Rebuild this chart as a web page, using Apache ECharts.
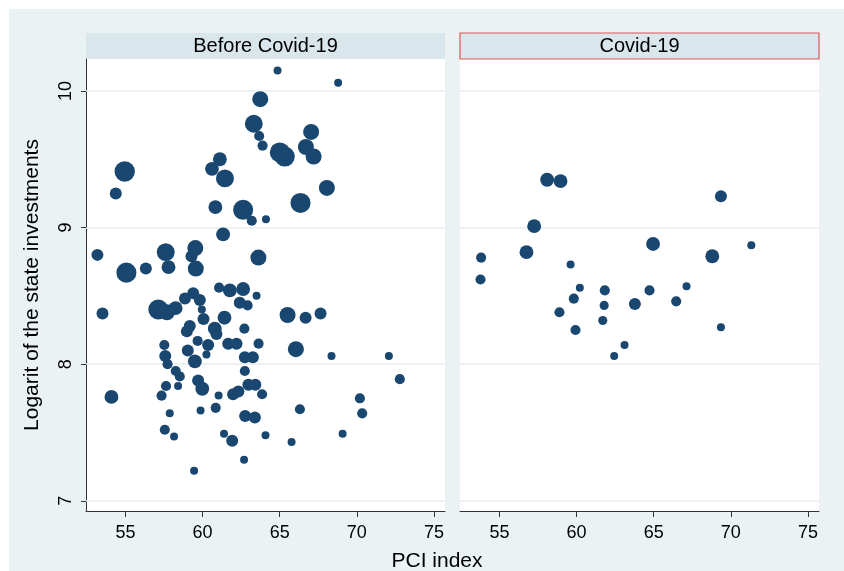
<!DOCTYPE html>
<html>
<head>
<meta charset="utf-8">
<script src="https://cdn.jsdelivr.net/npm/echarts@6.0.0/dist/echarts.min.js"></script>
<style>
  html, body { margin: 0; padding: 0; background: #ffffff; }
  #chart { position: absolute; left: 9px; top: 9px; width: 835px; height: 562px; }
</style>
</head>
<body>
<div id="chart"></div>
<script>
// ---- data ----
const panelTitles = ['Before Covid-19', 'Covid-19'];
const xTitle = 'PCI index';
const yTitle = 'Logarit of the state investments';
const xTicks = [55, 60, 65, 70, 75];
const yTicks = [7, 8, 9, 10];

const beforeX = [
  64.86,68.79,63.74,63.32,63.67,63.89,65.01,65.33,67.04,66.70,
  67.20,54.95,54.37,61.12,60.61,61.45,68.06,60.83,66.35,62.63,
  63.19,64.11,61.33,53.18,57.61,59.53,59.28,57.79,59.56,55.06,
  56.32,63.62,61.07,61.77,62.63,59.39,59.82,58.86,62.41,62.92,
  63.50,57.13,57.69,58.25,53.51,59.95,60.06,61.42,60.79,60.90,
  59.17,58.98,62.71,59.68,60.36,57.52,59.04,60.25,61.66,62.20,
  63.63,57.58,59.50,62.74,63.26,57.73,62.74,58.26,58.52,59.71,
  59.98,57.63,58.41,57.34,54.09,61.04,61.98,62.32,62.97,63.42,
  63.86,57.87,59.87,60.85,62.76,63.39,57.55,58.15,61.39,61.92,
  64.08,62.69,59.45,65.51,66.68,67.65,66.05,68.36,72.08,72.79,
  70.20,70.35,66.31,69.08,65.77
];
const beforeY = [
  10.15,10.06,9.94,9.76,9.67,9.60,9.55,9.52,9.70,9.59,
  9.52,9.41,9.25,9.50,9.43,9.36,9.29,9.15,9.18,9.13,
  9.05,9.06,8.95,8.80,8.82,8.85,8.79,8.71,8.70,8.67,
  8.70,8.78,8.56,8.54,8.55,8.52,8.47,8.48,8.45,8.43,
  8.50,8.40,8.38,8.41,8.37,8.40,8.33,8.34,8.26,8.22,
  8.28,8.24,8.26,8.17,8.14,8.14,8.10,8.07,8.15,8.15,
  8.15,8.06,8.02,8.05,8.05,8.00,7.95,7.95,7.91,7.88,
  7.82,7.84,7.84,7.77,7.76,7.77,7.78,7.80,7.85,7.85,
  7.78,7.64,7.66,7.68,7.62,7.61,7.52,7.47,7.49,7.44,
  7.48,7.30,7.22,8.36,8.34,8.37,8.11,8.06,8.06,7.89,
  7.75,7.64,7.67,7.49,7.43
];
const beforeW = [
  1,1,4,5,1.6,1.6,6.3,6.3,4,4,
  4,6.5,2.25,3,3,5,4,3,6.3,6.3,
  1.6,1,3,2.25,5,4,2.25,3,4,6.3,
  2.25,4,1.6,3,3,2.25,2.25,2.25,2.25,1.6,
  1,6.3,4,3,2.25,1,2.25,3,3,2.25,
  2.25,2.25,1.6,1.6,2.25,1.6,2.25,1,2.25,2.25,
  1.6,2.25,3,2.25,2.25,1.6,1.6,1.6,1.6,2.25,
  3,1.6,1,1.6,3,1,2.25,2.25,2.25,2.25,
  1.6,1,1,1.6,2.25,2.25,1.6,1,1,2.25,
  1,1,1,4,2.25,2.25,4,1,1,1.6,
  1.6,1.6,1.6,1,1
];

const covidX = [53.81,53.77,56.75,57.25,58.09,58.96,59.61,60.21,59.82,58.89,59.93,61.83,61.79,61.70,62.44,63.11,63.78,64.73,64.96,66.46,67.13,68.80,69.36,69.36,71.33];
const covidY = [8.78,8.62,8.82,9.01,9.35,9.34,8.73,8.56,8.48,8.38,8.25,8.54,8.43,8.32,8.06,8.14,8.44,8.54,8.88,8.46,8.57,8.79,9.23,8.27,8.87];
const covidW = [1.6,1.6,3,3,3,3,1,1,1.6,1.6,1.6,1.6,1.3,1.3,1,1,2.25,1.6,3,1.6,1,3,2.25,1,1];

// ---- styling ----
const FONT = 'Liberation Sans, Arial, sans-serif';
const MARKER = '#1a476f';
const AXIS = '#333333';
const GRIDLINE = '#e6eef0';
const STRIP = '#d9e6eb';
const X_MIN = 52.44, X_MAX = 75.72, Y_MIN = 6.925, Y_MAX = 10.234;

function pts(xs, ys, ws) { return xs.map((x, i) => [x, ys[i], ws[i]]); }

const grids = [
  { left: 77, top: 50, width: 359, height: 452 },
  { left: 451, top: 50, width: 359, height: 452 }
];

const chart = echarts.init(document.getElementById('chart'), null, { renderer: 'canvas' });

const xAxisBase = (gi) => ({
  gridIndex: gi, type: 'value', min: X_MIN, max: X_MAX,
  axisLine: { show: true, onZero: false, lineStyle: { color: AXIS, width: 1 } },
  axisTick: { show: true, inside: false, length: 6, customValues: xTicks, lineStyle: { color: AXIS } },
  axisLabel: { show: true, customValues: xTicks, fontSize: 18, color: '#000', fontFamily: FONT, margin: 13 },
  splitLine: { show: false }
});

const series = [pts(beforeX, beforeY, beforeW), pts(covidX, covidY, covidW)].map((d, i) => ({
  type: 'scatter', xAxisIndex: i, yAxisIndex: i, data: d,
  symbol: 'circle',
  symbolSize: (v) => 8 * Math.sqrt(v[2]),
  itemStyle: { color: MARKER, opacity: 1 },
  z: 3,
  markLine: {
    silent: true, z: 1, symbol: ['none', 'none'], animation: false,
    label: { show: false },
    lineStyle: { color: GRIDLINE, width: 1.5, type: 'solid' },
    data: yTicks.map(v => ({ yAxis: v }))
  }
}));

const graphics = [];
grids.forEach((g, i) => {
  graphics.push({
    type: 'rect', silent: true,
    shape: { x: g.left, y: 24, width: g.width, height: 26 },
    style: { fill: STRIP, stroke: i === 1 ? '#e05555' : null, lineWidth: i === 1 ? 1.2 : 0 }
  });
  graphics.push({
    type: 'text', silent: true,
    x: g.left + g.width / 2, y: 37.5,
    style: { text: panelTitles[i], fill: '#000', font: '20px ' + FONT, textAlign: 'center', textVerticalAlign: 'middle' }
  });
});
graphics.push({
  type: 'text', silent: true, x: 428, y: 542,
  style: { text: xTitle, fill: '#000', font: '21px ' + FONT, textAlign: 'center', textVerticalAlign: 'top' }
});

chart.setOption({
  animation: false,
  backgroundColor: '#eaf2f3',
  grid: grids.map(g => Object.assign({ show: true, backgroundColor: '#ffffff', borderWidth: 0, containLabel: false }, g)),
  xAxis: [xAxisBase(0), xAxisBase(1)],
  yAxis: [
    {
      gridIndex: 0, type: 'value', min: Y_MIN, max: Y_MAX,
      name: yTitle, nameLocation: 'middle', nameGap: 43,
      nameTextStyle: { fontSize: 21, color: '#000', fontFamily: FONT },
      axisLine: { show: true, onZero: false, lineStyle: { color: AXIS, width: 1 } },
      axisTick: { show: true, inside: false, length: 5, customValues: yTicks, lineStyle: { color: AXIS } },
      axisLabel: { show: true, customValues: yTicks, rotate: 90, fontSize: 18, color: '#000', fontFamily: FONT, margin: 11 },
      splitLine: { show: false }
    },
    {
      gridIndex: 1, type: 'value', min: Y_MIN, max: Y_MAX,
      axisLine: { show: false }, axisTick: { show: false }, axisLabel: { show: false },
      splitLine: { show: false }
    }
  ],
  graphic: graphics,
  series: series
});
</script>
</body>
</html>
